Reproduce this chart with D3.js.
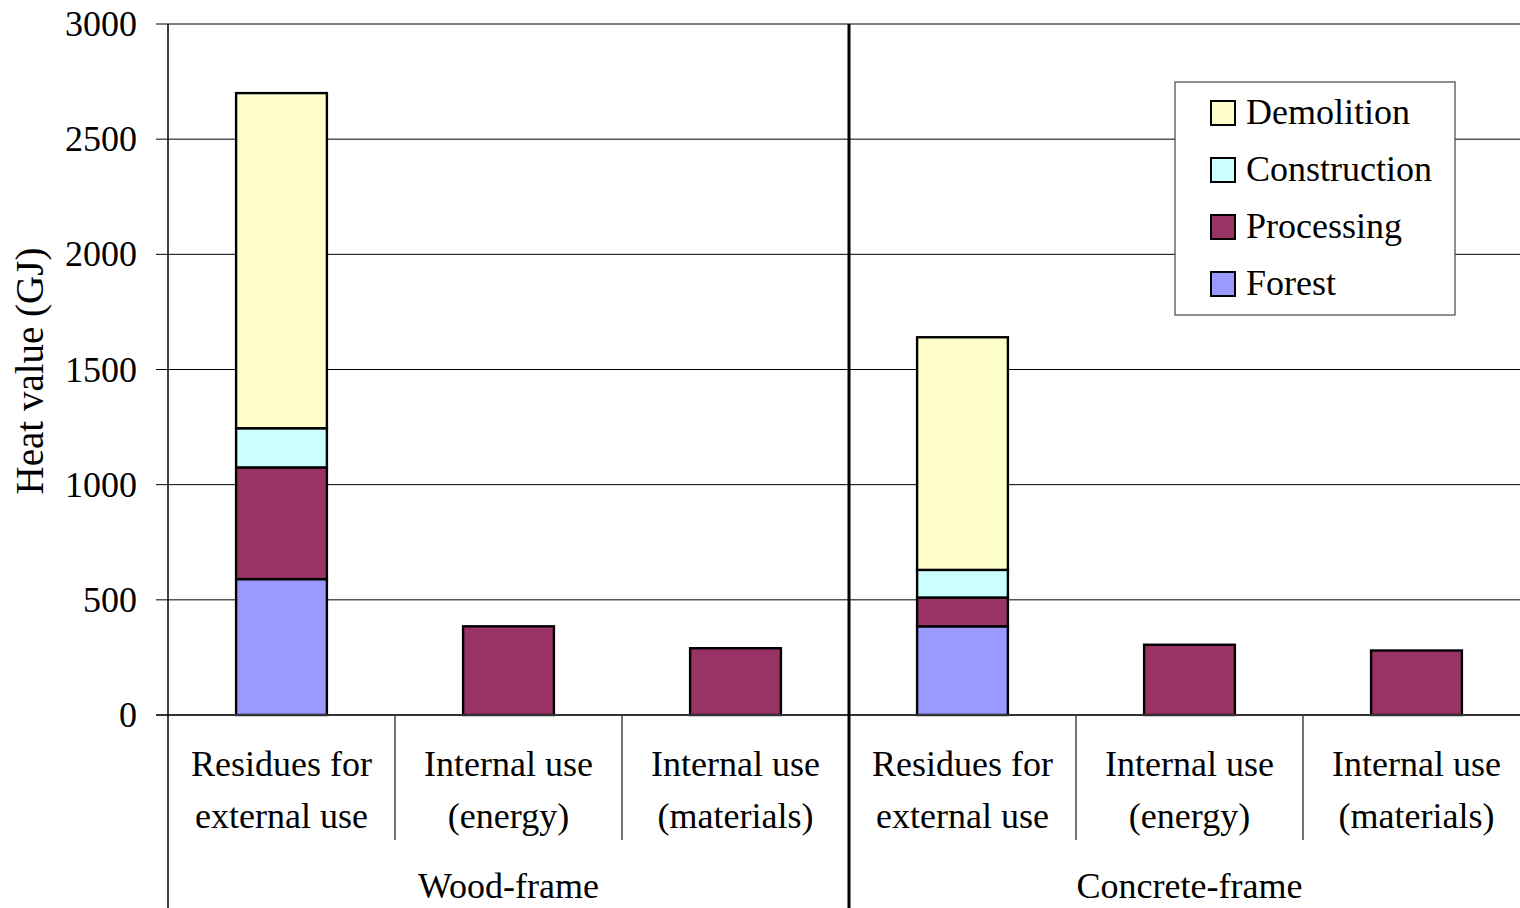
<!DOCTYPE html>
<html>
<head>
<meta charset="utf-8">
<script src="https://cdn.jsdelivr.net/npm/d3@7"></script>
<style>
  body { margin: 0; background: #fff; }
  text { font-family: "Liberation Serif", "Times New Roman", serif; fill: #000; }
</style>
</head>
<body>
<div id="chart"></div>
<script>
// ---- Data ----
const groups = ["Wood-frame", "Concrete-frame"];
const categories = [
  ["Residues for", "external use"],
  ["Internal use", "(energy)"],
  ["Internal use", "(materials)"]
];
const seriesNames = ["Forest", "Processing", "Construction", "Demolition"];
const seriesColors = ["#9999FF", "#993366", "#CCFFFF", "#FFFFCC"];
// one value per slot: wood x3, concrete x3
const forest       = [590, 0, 0, 385, 0, 0];
const processing   = [485, 385, 290, 125, 305, 280];
const construction = [170, 0, 0, 120, 0, 0];
const demolition   = [1455, 0, 0, 1010, 0, 0];
const yTicks = [0, 500, 1000, 1500, 2000, 2500, 3000];

const W = 1520, H = 908;
const margin = { top: 24, left: 168 };
const plotW = 1362, plotH = 691;

const svg = d3.select("#chart").append("svg")
  .attr("width", W).attr("height", H);
const g = svg.append("g").attr("transform", `translate(${margin.left},${margin.top})`);

// slots
const slots = d3.range(groups.length * categories.length);
const rows = slots.map(i => ({
  slot: i,
  Forest: forest[i], Processing: processing[i],
  Construction: construction[i], Demolition: demolition[i]
}));

const x = d3.scaleBand().domain(slots).range([0, plotW]).padding(0);
const y = d3.scaleLinear().domain([0, 3000]).range([plotH, 0]);

// ---- Gridlines + ticks ----
g.selectAll("line.grid")
  .data(yTicks.filter(d => d > 0))
  .join("line")
  .attr("class", "grid")
  .attr("x1", -12).attr("x2", plotW)
  .attr("y1", d => y(d)).attr("y2", d => y(d))
  .attr("stroke", d => d === 3000 ? "#555" : "#000")
  .attr("stroke-width", d => d === 3000 ? 1.6 : 1);

g.selectAll("text.ytick")
  .data(yTicks)
  .join("text")
  .attr("class", "ytick")
  .attr("x", -31)
  .attr("y", d => y(d) + 12)
  .attr("text-anchor", "end")
  .style("font-size", "36px")
  .text(d => d);

// y title
svg.append("text")
  .attr("transform", "translate(43,371) rotate(-90)")
  .attr("text-anchor", "middle")
  .style("font-size", "39px")
  .text("Heat value (GJ)");

// ---- Bars ----
const stacked = d3.stack().keys(seriesNames)(rows);
const bw = x.bandwidth() * 0.4;

g.selectAll("g.series")
  .data(stacked)
  .join("g")
  .attr("class", "series")
  .attr("fill", (d, i) => seriesColors[i])
  .selectAll("rect")
  .data(d => d.filter(s => s[1] - s[0] > 0))
  .join("rect")
  .attr("x", d => x(d.data.slot) + (x.bandwidth() - bw) / 2)
  .attr("width", bw)
  .attr("y", d => y(d[1]))
  .attr("height", d => y(d[0]) - y(d[1]))
  .attr("stroke", "#000")
  .attr("stroke-width", 2.4);

// ---- Axes frame ----
// zero line
g.append("line")
  .attr("x1", -12).attr("x2", plotW)
  .attr("y1", plotH).attr("y2", plotH)
  .attr("stroke", "#333").attr("stroke-width", 2);

// left axis, runs down through the label area
g.append("line")
  .attr("x1", 0).attr("x2", 0)
  .attr("y1", 0).attr("y2", H - margin.top)
  .attr("stroke", "#000").attr("stroke-width", 1.5);

// category separators inside groups
slots.filter(i => i % categories.length !== 0).forEach(i => {
  g.append("line")
    .attr("x1", x(i)).attr("x2", x(i))
    .attr("y1", plotH).attr("y2", plotH + 125)
    .attr("stroke", "#444").attr("stroke-width", 1.5);
});

// group divider
groups.slice(1).forEach((grp, gi) => {
  const xx = x((gi + 1) * categories.length);
  g.append("line")
    .attr("x1", xx).attr("x2", xx)
    .attr("y1", 0).attr("y2", H - margin.top)
    .attr("stroke", "#000").attr("stroke-width", 3);
});

// ---- Category labels ----
slots.forEach(i => {
  const lines = categories[i % categories.length];
  const t = g.append("text")
    .attr("text-anchor", "middle")
    .style("font-size", "36px");
  lines.forEach((ln, li) => {
    t.append("tspan")
      .attr("x", x(i) + x.bandwidth() / 2)
      .attr("y", plotH + 61 + li * 52)
      .text(ln);
  });
});

// group labels
groups.forEach((grp, gi) => {
  const x0 = x(gi * categories.length);
  const x1 = x((gi + 1) * categories.length - 1) + x.bandwidth();
  g.append("text")
    .attr("x", (x0 + x1) / 2)
    .attr("y", plotH + 183)
    .attr("text-anchor", "middle")
    .style("font-size", "36px")
    .text(grp);
});

// ---- Legend ----
const legend = svg.append("g").attr("transform", "translate(1175,82)");
legend.append("rect")
  .attr("width", 280).attr("height", 233)
  .attr("fill", "#fff").attr("stroke", "#444").attr("stroke-width", 1.2);

const legendOrder = seriesNames.slice().reverse();
const item = legend.selectAll("g.item")
  .data(legendOrder)
  .join("g")
  .attr("class", "item")
  .attr("transform", (d, i) => `translate(36,${19 + i * 57})`);
item.append("rect")
  .attr("width", 24).attr("height", 24)
  .attr("fill", d => seriesColors[seriesNames.indexOf(d)])
  .attr("stroke", "#000").attr("stroke-width", 2);
item.append("text")
  .attr("x", 35).attr("y", 23)
  .style("font-size", "36px")
  .text(d => d);
</script>
</body>
</html>
